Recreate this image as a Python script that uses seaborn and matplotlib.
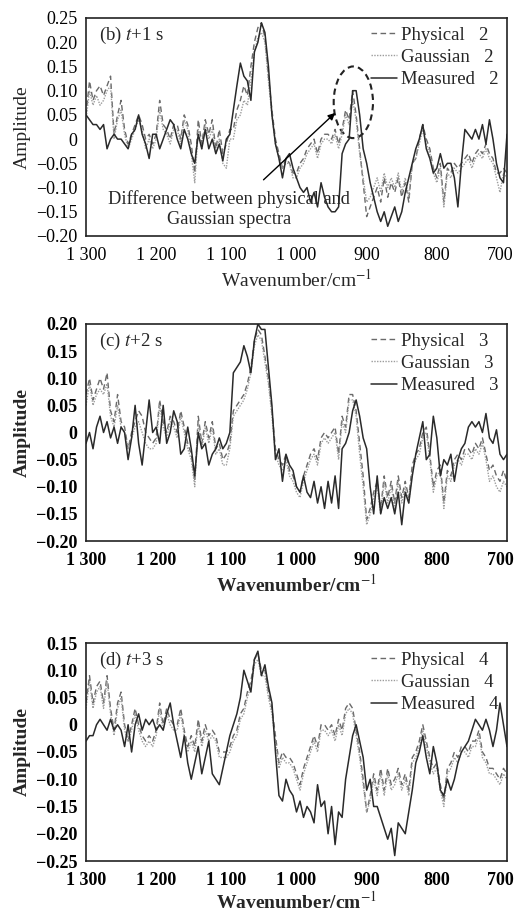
import numpy as np
import pandas as pd
import matplotlib
matplotlib.use("Agg")
import matplotlib.pyplot as plt
import matplotlib.transforms as mtransforms
from matplotlib.patches import Ellipse
import seaborn as sns

# ---------------- data ----------------
wavenumber = np.arange(1300, 695, -5)  # 1300 ... 700 cm^-1

x_ticks = [1300, 1200, 1100, 1000, 900, 800, 700]
x_tick_labels = ["1 300", "1 200", "1 100", "1 000", "900", "800", "700"]

b_physical = [
    0.05, 0.12, 0.08, 0.10, 0.11, 0.09, 0.11, 0.13, 0.01, 0.05,
    0.08, 0.02, -0.01, 0.01, 0.03, 0.05, 0.03, 0.00, 0.01, -0.01,
    0.01, 0.08, 0.03, 0.02, 0.00, 0.03, 0.03, 0.00, 0.05, 0.03,
    -0.01, -0.07, 0.04, -0.01, 0.04, 0.01, 0.04, -0.02, 0.02, -0.03,
    -0.01, 0.02, 0.02, 0.06, 0.08, 0.11, 0.09, 0.15, 0.20, 0.23,
    0.24, 0.21, 0.13, 0.06, 0.00, -0.03, -0.06, -0.04, -0.05, -0.07,
    -0.07, -0.05, -0.04, -0.02, -0.01, 0.00, -0.03, 0.00, 0.01, 0.01,
    0.00, 0.02, -0.01, 0.02, 0.06, 0.04, 0.10, 0.05, -0.02, -0.09,
    -0.16, -0.14, -0.12, -0.10, -0.13, -0.08, -0.12, -0.09, -0.11, -0.08,
    -0.12, -0.09, -0.13, -0.05, -0.04, 0.00, 0.03, 0.00, -0.02, -0.06,
    -0.08, -0.05, -0.13, -0.06, -0.07, -0.05, -0.06, -0.05, -0.04, -0.03,
    -0.05, -0.03, -0.02, -0.03, -0.01, -0.03, -0.04, -0.07, -0.07, -0.06,
    -0.07]
b_gaussian = [
    0.04, 0.10, 0.07, 0.09, 0.07, 0.08, 0.10, 0.11, 0.00, 0.04,
    0.06, 0.01, -0.02, 0.00, 0.02, 0.04, 0.02, -0.02, 0.00, -0.02,
    0.00, 0.06, 0.02, 0.01, -0.01, 0.02, 0.02, -0.01, 0.04, 0.02,
    -0.03, -0.09, 0.02, -0.02, 0.03, 0.00, 0.02, -0.03, 0.00, -0.05,
    -0.06, 0.00, 0.00, 0.04, 0.05, 0.08, 0.07, 0.12, 0.18, 0.21,
    0.22, 0.20, 0.12, 0.05, -0.01, -0.04, -0.06, -0.05, -0.05, -0.08,
    -0.08, -0.06, -0.05, -0.03, -0.02, -0.01, -0.04, -0.01, 0.00, 0.00,
    -0.01, 0.01, -0.02, 0.01, 0.05, 0.03, 0.08, 0.04, -0.03, -0.08,
    -0.13, -0.12, -0.10, -0.08, -0.11, -0.07, -0.10, -0.08, -0.10, -0.07,
    -0.11, -0.08, -0.12, -0.05, -0.04, -0.01, 0.02, -0.01, -0.03, -0.07,
    -0.09, -0.06, -0.14, -0.07, -0.08, -0.06, -0.07, -0.06, -0.05, -0.04,
    -0.06, -0.04, -0.03, -0.04, -0.02, -0.04, -0.05, -0.08, -0.11, -0.07,
    -0.08]
b_measured = [
    0.05, 0.04, 0.03, 0.03, 0.02, 0.03, -0.02, 0.00, 0.01, 0.00,
    0.00, -0.01, -0.02, 0.01, 0.02, 0.05, 0.01, -0.01, -0.04, 0.01,
    0.01, -0.02, 0.00, 0.02, 0.04, 0.03, 0.00, -0.02, 0.02, 0.00,
    -0.03, -0.05, 0.01, -0.02, 0.02, -0.02, 0.00, -0.03, -0.01, -0.045,
    0.00, 0.01, 0.06, 0.11, 0.157, 0.13, 0.12, 0.08, 0.18, 0.20,
    0.24, 0.22, 0.15, 0.05, -0.01, -0.04, -0.08, -0.04, -0.03, -0.06,
    -0.08, -0.10, -0.11, -0.10, -0.13, -0.11, -0.14, -0.09, -0.12, -0.14,
    -0.15, -0.15, -0.14, -0.03, -0.01, 0.00, 0.10, 0.10, 0.05, -0.02,
    -0.05, -0.09, -0.12, -0.15, -0.17, -0.15, -0.18, -0.16, -0.14, -0.17,
    -0.15, -0.11, -0.08, -0.05, -0.02, 0.00, 0.03, -0.02, -0.04, -0.07,
    -0.06, -0.03, -0.06, -0.05, -0.05, -0.08, -0.14, -0.05, 0.02, 0.01,
    0.00, 0.02, 0.00, 0.03, -0.01, 0.04, 0.00, -0.05, -0.08, -0.09,
    0.01]

c_physical = [
    0.07, 0.10, 0.06, 0.08, 0.10, 0.08, 0.11, 0.04, 0.02, 0.07,
    0.02, 0.01, -0.03, 0.00, 0.02, 0.04, 0.03, 0.00, -0.01, -0.02,
    -0.01, 0.06, 0.02, 0.00, 0.03, 0.02, 0.00, 0.04, 0.01, -0.02,
    -0.04, -0.09, 0.03, -0.02, 0.02, -0.01, 0.02, -0.03, -0.02, -0.05,
    -0.04, -0.02, 0.04, 0.05, 0.06, 0.07, 0.09, 0.12, 0.17, 0.19,
    0.18, 0.14, 0.10, 0.04, -0.03, -0.05, -0.06, -0.04, -0.07, -0.08,
    -0.10, -0.11, -0.08, -0.06, -0.04, -0.03, -0.05, -0.01, 0.00, -0.01,
    0.00, 0.01, -0.04, 0.03, 0.01, 0.07, 0.07, 0.04, -0.02, -0.08,
    -0.16, -0.14, -0.11, -0.09, -0.14, -0.08, -0.12, -0.09, -0.13, -0.08,
    -0.12, -0.09, -0.12, -0.06, -0.04, -0.03, 0.00, 0.01, -0.04, -0.10,
    -0.07, -0.06, -0.13, -0.07, -0.08, -0.05, -0.04, -0.05, -0.03, -0.03,
    -0.04, -0.02, -0.03, -0.01, -0.04, -0.07, -0.06, -0.08, -0.09, -0.07,
    -0.09]
c_gaussian = [
    0.05, 0.09, 0.05, 0.07, 0.08, 0.07, 0.09, 0.03, 0.01, 0.05,
    0.01, 0.00, -0.03, -0.01, 0.01, 0.02, 0.00, -0.02, -0.03, -0.03,
    -0.02, 0.05, 0.01, -0.01, 0.02, 0.01, -0.01, 0.03, 0.00, -0.03,
    -0.05, -0.10, 0.02, -0.03, 0.01, -0.02, 0.01, -0.04, -0.03, -0.06,
    -0.06, -0.03, 0.03, 0.04, 0.05, 0.06, 0.08, 0.11, 0.16, 0.18,
    0.17, 0.13, 0.09, 0.03, -0.04, -0.06, -0.07, -0.05, -0.08, -0.09,
    -0.11, -0.12, -0.09, -0.07, -0.05, -0.04, -0.06, -0.02, -0.01, -0.02,
    -0.01, 0.00, -0.05, 0.02, 0.00, 0.06, 0.06, 0.03, -0.04, -0.10,
    -0.17, -0.15, -0.12, -0.10, -0.15, -0.09, -0.13, -0.10, -0.14, -0.09,
    -0.13, -0.10, -0.13, -0.07, -0.05, -0.04, -0.01, 0.00, -0.05, -0.11,
    -0.08, -0.07, -0.14, -0.08, -0.09, -0.06, -0.05, -0.06, -0.04, -0.04,
    -0.05, -0.03, -0.04, -0.02, -0.05, -0.09, -0.08, -0.10, -0.11, -0.09,
    -0.10]
c_measured = [
    -0.02, 0.00, -0.03, 0.01, 0.03, 0.00, 0.02, -0.01, 0.01, -0.02,
    0.01, 0.00, -0.05, -0.01, 0.05, -0.02, -0.06, 0.00, 0.06, 0.00,
    0.01, -0.02, 0.05, -0.02, 0.00, 0.04, 0.02, -0.04, -0.03, 0.01,
    -0.03, -0.08, 0.00, -0.03, -0.02, -0.06, -0.04, -0.03, -0.01, -0.03,
    -0.02, 0.00, 0.11, 0.12, 0.13, 0.16, 0.14, 0.11, 0.17, 0.20,
    0.19, 0.19, 0.12, 0.05, -0.05, -0.03, -0.09, -0.04, -0.06, -0.07,
    -0.10, -0.11, -0.08, -0.11, -0.12, -0.09, -0.13, -0.10, -0.14, -0.09,
    -0.13, -0.08, -0.14, -0.03, -0.02, 0.00, 0.04, 0.06, 0.03, -0.01,
    -0.03, -0.10, -0.15, -0.08, -0.15, -0.12, -0.14, -0.12, -0.15, -0.11,
    -0.17, -0.11, -0.13, -0.08, -0.04, -0.01, 0.02, -0.05, -0.04, 0.03,
    -0.01, -0.08, -0.05, -0.06, -0.04, -0.09, -0.05, -0.03, -0.02, 0.01,
    0.02, 0.01, 0.02, 0.00, 0.035, -0.01, -0.02, 0.005, -0.04, -0.05,
    -0.04]

d_physical = [
    0.04, 0.09, 0.04, 0.07, 0.08, 0.04, 0.09, 0.03, -0.01, 0.04,
    0.06, 0.00, -0.03, 0.00, 0.03, 0.00, -0.02, -0.03, -0.02, -0.03,
    -0.01, 0.04, 0.00, 0.03, 0.01, 0.00, 0.00, 0.03, -0.01, -0.04,
    -0.02, -0.04, 0.01, -0.03, 0.00, -0.02, -0.01, -0.02, -0.05, -0.05,
    -0.05, -0.04, -0.02, -0.01, 0.02, 0.03, 0.06, 0.08, 0.12, 0.13,
    0.10, 0.10, 0.06, 0.03, -0.02, -0.07, -0.05, -0.06, -0.06, -0.07,
    -0.09, -0.11, -0.08, -0.06, -0.04, -0.02, -0.04, 0.00, 0.00, -0.01,
    0.00, -0.02, 0.01, -0.01, 0.03, 0.04, 0.03, -0.01, -0.05, -0.10,
    -0.16, -0.13, -0.09, -0.12, -0.08, -0.12, -0.08, -0.11, -0.10, -0.08,
    -0.11, -0.09, -0.12, -0.06, -0.05, -0.03, 0.00, -0.03, -0.06, -0.08,
    -0.07, -0.11, -0.14, -0.08, -0.07, -0.05, -0.06, -0.04, -0.04, -0.05,
    -0.03, -0.03, -0.01, -0.05, -0.06, -0.08, -0.08, -0.09, -0.10, -0.08,
    -0.09]
d_gaussian = [
    0.03, 0.08, 0.03, 0.06, 0.07, 0.03, 0.08, 0.02, -0.02, 0.03,
    0.05, -0.01, -0.03, -0.01, 0.02, -0.01, -0.03, -0.04, -0.03, -0.04,
    -0.02, 0.03, -0.01, 0.02, 0.00, -0.01, -0.01, 0.02, -0.02, -0.05,
    -0.03, -0.05, 0.00, -0.04, -0.01, -0.03, -0.02, -0.03, -0.06, -0.06,
    -0.06, -0.05, -0.03, -0.02, 0.01, 0.02, 0.05, 0.07, 0.11, 0.12,
    0.09, 0.09, 0.05, 0.02, -0.03, -0.08, -0.06, -0.07, -0.07, -0.08,
    -0.10, -0.12, -0.09, -0.07, -0.05, -0.03, -0.05, -0.01, -0.01, -0.02,
    -0.01, -0.03, 0.00, -0.02, 0.02, 0.03, 0.02, -0.02, -0.06, -0.11,
    -0.16, -0.14, -0.10, -0.13, -0.09, -0.13, -0.09, -0.12, -0.11, -0.09,
    -0.12, -0.10, -0.13, -0.07, -0.06, -0.04, -0.01, -0.04, -0.07, -0.09,
    -0.08, -0.12, -0.15, -0.09, -0.08, -0.06, -0.07, -0.05, -0.05, -0.06,
    -0.04, -0.04, -0.02, -0.06, -0.07, -0.09, -0.09, -0.10, -0.11, -0.09,
    -0.10]
d_measured = [
    -0.03, -0.02, -0.02, 0.00, 0.01, 0.00, -0.01, 0.01, -0.01, 0.00,
    -0.01, -0.04, 0.00, -0.05, 0.00, 0.02, -0.01, 0.01, 0.00, 0.01,
    -0.01, 0.00, -0.01, 0.02, 0.04, 0.00, -0.03, -0.06, -0.02, -0.07,
    -0.10, -0.07, -0.04, -0.09, -0.06, -0.03, -0.09, -0.10, -0.11, -0.08,
    -0.05, -0.02, 0.00, 0.02, 0.05, 0.10, 0.08, 0.06, 0.12, 0.135,
    0.09, 0.11, 0.07, 0.04, -0.05, -0.13, -0.14, -0.10, -0.12, -0.13,
    -0.16, -0.14, -0.17, -0.15, -0.16, -0.18, -0.11, -0.15, -0.14, -0.20,
    -0.15, -0.22, -0.16, -0.17, -0.10, -0.06, -0.02, 0.00, -0.03, -0.06,
    -0.12, -0.10, -0.15, -0.15, -0.17, -0.19, -0.21, -0.19, -0.24, -0.18,
    -0.19, -0.20, -0.16, -0.12, -0.07, -0.05, -0.02, -0.06, -0.09, -0.04,
    -0.07, -0.12, -0.13, -0.10, -0.12, -0.10, -0.07, -0.05, -0.04, -0.03,
    -0.01, 0.01, 0.00, -0.01, 0.01, -0.01, -0.04, -0.01, 0.04, 0.00,
    -0.04]

panel_titles = ["(b) $t$+1 s", "(c) $t$+2 s", "(d) $t$+3 s"]
panel_index = ["2", "3", "4"]
y_ranges = [(-0.20, 0.25), (-0.20, 0.20), (-0.25, 0.15)]

# ---------------- style ----------------
sns.set_style("white")
plt.rcParams["font.family"] = ["Liberation Serif", "DejaVu Serif"]
plt.rcParams["mathtext.fontset"] = "stix"
plt.rcParams["axes.unicode_minus"] = True

fig = plt.figure(figsize=(5.18, 9.16), dpi=100)
W, H = 518, 916
boxes = [(86, 18, 507, 236), (86, 324, 507, 541), (86, 643, 507, 861)]

series_sets = [
    (b_physical, b_gaussian, b_measured),
    (c_physical, c_gaussian, c_measured),
    (d_physical, d_gaussian, d_measured),
]

for i, ((x0, y0, x1, y1), (phys, gaus, meas)) in enumerate(zip(boxes, series_sets)):
    ax = fig.add_axes([x0 / W, 1 - y1 / H, (x1 - x0) / W, (y1 - y0) / H])
    n = panel_index[i]
    sns.lineplot(x=wavenumber, y=phys, ax=ax, color="#6a6a6a", lw=1.0,
                 label=f"Physical   {n}", sort=False)
    ax.lines[-1].set_dashes((4, 2.5))
    sns.lineplot(x=wavenumber, y=gaus, ax=ax, color="#9c9c9c", lw=1.0,
                 label=f"Gaussian   {n}", sort=False)
    ax.lines[-1].set_dashes((1, 1))
    sns.lineplot(x=wavenumber, y=meas, ax=ax, color="#2a2a2a", lw=1.1,
                 label=f"Measured   {n}", sort=False)

    ax.set_xlim(1300, 700)
    lo, hi = y_ranges[i]
    ax.set_ylim(lo, hi)
    yt = np.round(np.arange(lo, hi + 0.001, 0.05), 2)
    ax.set_yticks(yt)
    ylabels = []
    for v in yt:
        if abs(v) < 1e-9:
            ylabels.append("0")
        else:
            s = f"{v:.2f}"
            ylabels.append(s.replace("-", "\u2212"))
    weight = "normal" if i == 0 else "bold"
    ax.set_yticklabels(ylabels, fontsize=13, fontweight=weight)
    ax.set_xticks(x_ticks)
    ax.set_xticklabels(x_tick_labels, fontsize=13, fontweight=weight)
    ax.tick_params(axis="x", direction="in", length=5, width=1, pad=8,
                   colors="#222222", labelcolor="black")
    ax.tick_params(axis="y", direction="in", length=0, pad=6, labelcolor="black")
    # keep last x tick label inside the figure
    last = ax.get_xticklabels()[-1]
    last.set_transform(last.get_transform() +
                       mtransforms.ScaledTranslation(-7 / 100, 0, fig.dpi_scale_trans))
    for sp in ax.spines.values():
        sp.set_color("#222222")
        sp.set_linewidth(1.2)
    ax.set_xlabel("Wavenumber/cm$^{-1}$", fontsize=14, fontweight=weight,
                  labelpad=(1 if i == 2 else 3))
    ax.set_ylabel("Amplitude", fontsize=14, fontweight=weight)
    ax.yaxis.set_label_coords(-0.132, 0.5)

    ax.text(0.03, 0.92, panel_titles[i], transform=ax.transAxes,
            fontsize=13.5, va="center", ha="left")

    ax.legend(loc="upper right", frameon=False, fontsize=13.5,
              handlelength=1.4, handletextpad=0.2, labelspacing=0.28,
              borderaxespad=0.2, borderpad=0.25)

    if i == 0:
        ell = Ellipse((919, 0.076), width=56, height=0.148, fill=False,
                      linestyle=(0, (3, 2)), lw=1.5, edgecolor="#222222")
        ax.add_patch(ell)
        ax.annotate("", xy=(945, 0.054), xytext=(1047, -0.084),
                    arrowprops=dict(arrowstyle="-|>", lw=1.0, color="black",
                                    mutation_scale=10, shrinkA=0, shrinkB=0))
        ax.text(1096, -0.144, "Difference between physical and\nGaussian spectra",
                ha="center", va="center", fontsize=13.2, linespacing=1.2)

fig.savefig("out.png", dpi=100)
